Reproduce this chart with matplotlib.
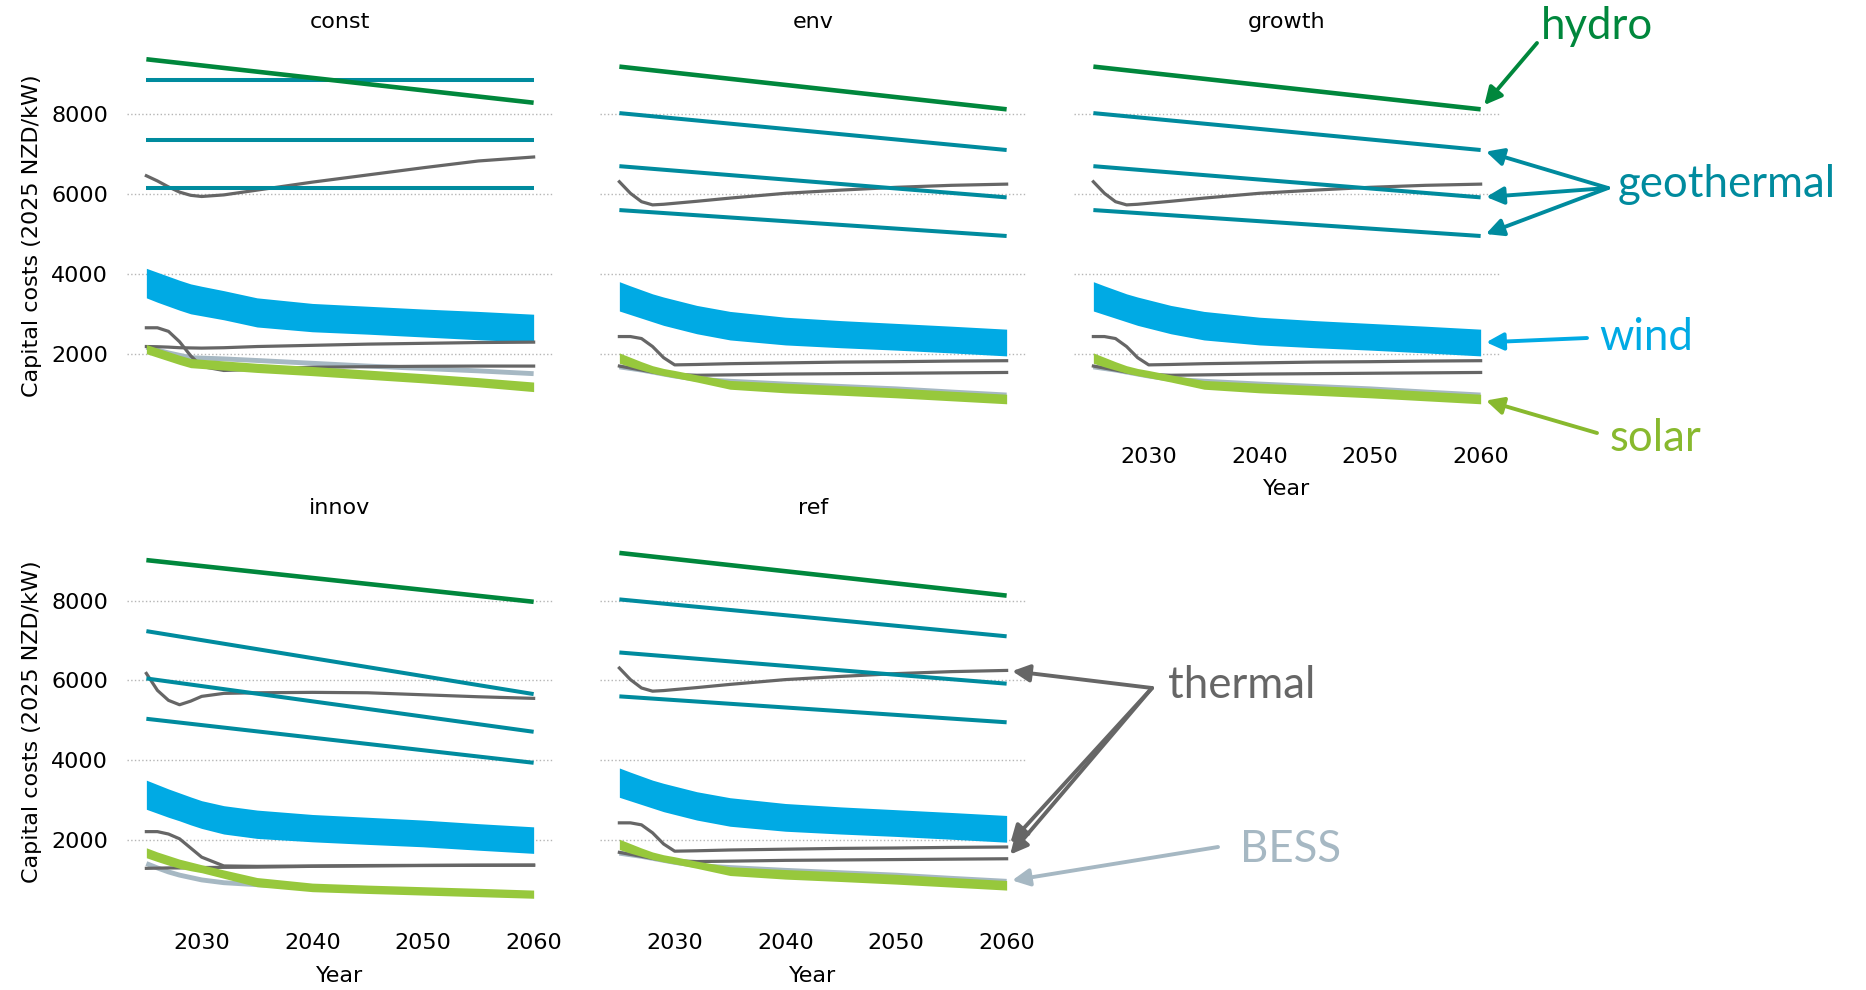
import matplotlib
matplotlib.use("Agg")
import matplotlib.pyplot as plt

# ---- data ----
years = [2025, 2026, 2027, 2028, 2029, 2030, 2032, 2035, 2040, 2045, 2050, 2055, 2060]
ends = [2025, 2060]   # hydro and geothermal are straight lines

scenarios = ["const", "env", "growth", "innov", "ref"]

hydro = {
    "const": [9380, 8290],
    "env": [9195, 8125],
    "innov": [9015, 7970],
}
geothermal = {
    "const": [[8850, 8850], [7360, 7360], [6160, 6160]],
    "env": [[8030, 7105], [6700, 5918], [5600, 4950]],
    "innov": [[7235, 5657], [6049, 4712], [5038, 3935]],
}
thermal = {
    "const": [
        [6460, 6330, 6180, 6050, 5970, 5940, 5980, 6100, 6300, 6480, 6660, 6830, 6930],
        [2180, 2175, 2165, 2150, 2145, 2140, 2150, 2180, 2210, 2240, 2260, 2280, 2290],
        [2650, 2650, 2560, 2300, 1950, 1680, 1580, 1610, 1660, 1675, 1685, 1690, 1690],
    ],
    "env": [
        [6310, 6020, 5810, 5730, 5745, 5770, 5820, 5900, 6020, 6100, 6170, 6220, 6250],
        [2430, 2430, 2380, 2180, 1900, 1720, 1730, 1750, 1770, 1790, 1800, 1815, 1825],
        [1690, 1640, 1590, 1540, 1500, 1480, 1460, 1470, 1490, 1500, 1510, 1520, 1530],
    ],
    "innov": [
        [6175, 5750, 5500, 5390, 5480, 5600, 5675, 5690, 5700, 5690, 5640, 5590, 5550],
        [2210, 2210, 2150, 2030, 1800, 1570, 1350, 1340, 1350, 1360, 1365, 1370, 1370],
        [1290, 1295, 1300, 1300, 1305, 1310, 1315, 1320, 1340, 1350, 1360, 1365, 1370],
    ],
}
bess = {
    "const": [2160, 2090, 2020, 1960, 1900, 1890, 1870, 1830, 1760, 1690, 1630, 1570, 1500],
    "env": [1670, 1630, 1590, 1540, 1490, 1440, 1360, 1310, 1240, 1180, 1120, 1040, 965],
    "innov": [1410, 1300, 1200, 1120, 1060, 1000, 930, 880, 810, 760, 720, 670, 620],
}
solar_hi = {
    "const": [2230, 2140, 2050, 1960, 1880, 1860, 1820, 1760, 1680, 1590, 1500, 1400, 1290],
    "env": [2020, 1910, 1800, 1700, 1630, 1580, 1470, 1330, 1260, 1200, 1140, 1060, 985],
    "innov": [1805, 1700, 1610, 1520, 1450, 1380, 1250, 1060, 920, 870, 830, 790, 745],
}
solar_lo = {
    "const": [2000, 1910, 1820, 1730, 1650, 1630, 1590, 1530, 1450, 1360, 1270, 1170, 1050],
    "env": [1760, 1670, 1590, 1510, 1450, 1400, 1290, 1110, 1020, 960, 895, 820, 745],
    "innov": [1555, 1460, 1370, 1290, 1230, 1180, 1040, 830, 705, 660, 620, 580, 540],
}
wind_hi = {
    "const": [4140, 4040, 3940, 3840, 3750, 3690, 3580, 3400, 3260, 3190, 3120, 3060, 2990],
    "env": [3805, 3700, 3600, 3500, 3420, 3350, 3210, 3060, 2915, 2830, 2760, 2690, 2615],
    "innov": [3500, 3390, 3280, 3180, 3080, 2985, 2860, 2750, 2640, 2570, 2500, 2410, 2330],
}
wind_lo = {
    "const": [3400, 3290, 3190, 3090, 3000, 2950, 2850, 2670, 2550, 2490, 2420, 2350, 2290],
    "env": [3070, 2980, 2890, 2800, 2710, 2640, 2500, 2345, 2220, 2150, 2090, 2020, 1945],
    "innov": [2770, 2670, 2570, 2480, 2380, 2290, 2150, 2040, 1955, 1890, 1830, 1745, 1665],
}
# growth and ref carry the same cost paths as env
for d in (hydro, geothermal, thermal, bess, solar_hi, solar_lo, wind_hi, wind_lo):
    d["growth"] = d["env"]
    d["ref"] = d["env"]

C_HYDRO = "#00873c"
C_GEO = "#008b9e"
C_WIND = "#00aae4"
C_SOLAR = "#97c83c"
C_SOLAR_TXT = "#88b92e"
C_THERMAL = "#666666"
C_BESS = "#a6b8c3"

W, H = 1866, 990
fig = plt.figure(figsize=(W / 100, H / 100), dpi=100)

lefts = [127, 600, 1074]
tops = [41.6, 527.9]
aw, ah = 426, 388


def px(x, y):
    return (x / W, 1 - y / H)


def draw(ax, s):
    ax.fill_between(years, wind_lo[s], wind_hi[s], color=C_WIND, lw=0, zorder=1)
    ax.plot(years, bess[s], color=C_BESS, lw=3.5, solid_capstyle="butt", zorder=2)
    for t in thermal[s]:
        ax.plot(years, t, color=C_THERMAL, lw=2.3, zorder=3)
    ax.fill_between(years, solar_lo[s], solar_hi[s], color=C_SOLAR, lw=0, zorder=4)
    for g in geothermal[s]:
        ax.plot(ends, g, color=C_GEO, lw=2.9, solid_capstyle="butt", zorder=5)
    ax.plot(ends, hydro[s], color=C_HYDRO, lw=3.3, solid_capstyle="butt", zorder=6)


axes = {}
first = None
for i, s in enumerate(scenarios):
    r, c = divmod(i, 3)
    rect = [lefts[c] / W, 1 - (tops[r] + ah) / H, aw / W, ah / H]
    ax = fig.add_axes(rect, sharex=first, sharey=first)
    if first is None:
        first = ax
    axes[s] = ax
    draw(ax, s)
    for sp in ax.spines.values():
        sp.set_visible(False)
    ax.set_axisbelow(True)
    ax.yaxis.grid(True, linestyle=":", color="#b5b5b5", lw=1.0)
    ax.set_title(s, fontsize=16, pad=10)
    ax.set_xticks([2030, 2040, 2050, 2060])
    ax.set_yticks([2000, 4000, 6000, 8000])
    ax.tick_params(axis="x", length=0, pad=12.5, labelsize=16)
    ax.tick_params(axis="y", length=0, pad=13.5, labelsize=16)
    if c == 0:
        ax.set_ylabel("Capital costs (2025 NZD/kW)", fontsize=16, labelpad=7)
    else:
        ax.tick_params(labelleft=False)
    if s in ("const", "env"):
        ax.tick_params(labelbottom=False)
    else:
        ax.set_xlabel("Year", fontsize=16, labelpad=9)

# ---- annotations on the right ----
ann_font = dict(family=["Lato", "DejaVu Sans"], fontsize=31.5)
arrow = dict(arrowstyle="-|>", lw=2.8, mutation_scale=26, shrinkA=0, shrinkB=4)

g = axes["growth"]
rf = axes["ref"]


def point(ax, y, tail, color):
    ax.annotate("", xy=(2060, y), xycoords="data", xytext=px(*tail),
                textcoords="figure fraction",
                arrowprops=dict(arrow, color=color), annotation_clip=False)


fig.text(*px(1541, 39), "hydro", color=C_HYDRO, va="baseline", **ann_font)
point(g, hydro["growth"][1], (1537, 43), C_HYDRO)

fig.text(*px(1618, 197), "geothermal", color=C_GEO, va="baseline", **ann_font)
for gl in geothermal["growth"]:
    point(g, gl[1], (1608, 188), C_GEO)

fig.text(*px(1599, 350), "wind", color=C_WIND, va="baseline", **ann_font)
point(g, (wind_hi["growth"][-1] + wind_lo["growth"][-1]) / 2, (1587, 338), C_WIND)

fig.text(*px(1610, 451), "solar", color=C_SOLAR_TXT, va="baseline", **ann_font)
point(g, (solar_hi["growth"][-1] + solar_lo["growth"][-1]) / 2, (1597, 433), C_SOLAR_TXT)

fig.text(*px(1168, 698), "thermal", color=C_THERMAL, va="baseline", **ann_font)
for t in thermal["ref"]:
    point(rf, t[-1], (1152, 688), C_THERMAL)

fig.text(*px(1240, 862), "BESS", color=C_BESS, va="baseline", **ann_font)
point(rf, bess["ref"][-1], (1218, 847), C_BESS)

fig.savefig("out.png", dpi=100)
